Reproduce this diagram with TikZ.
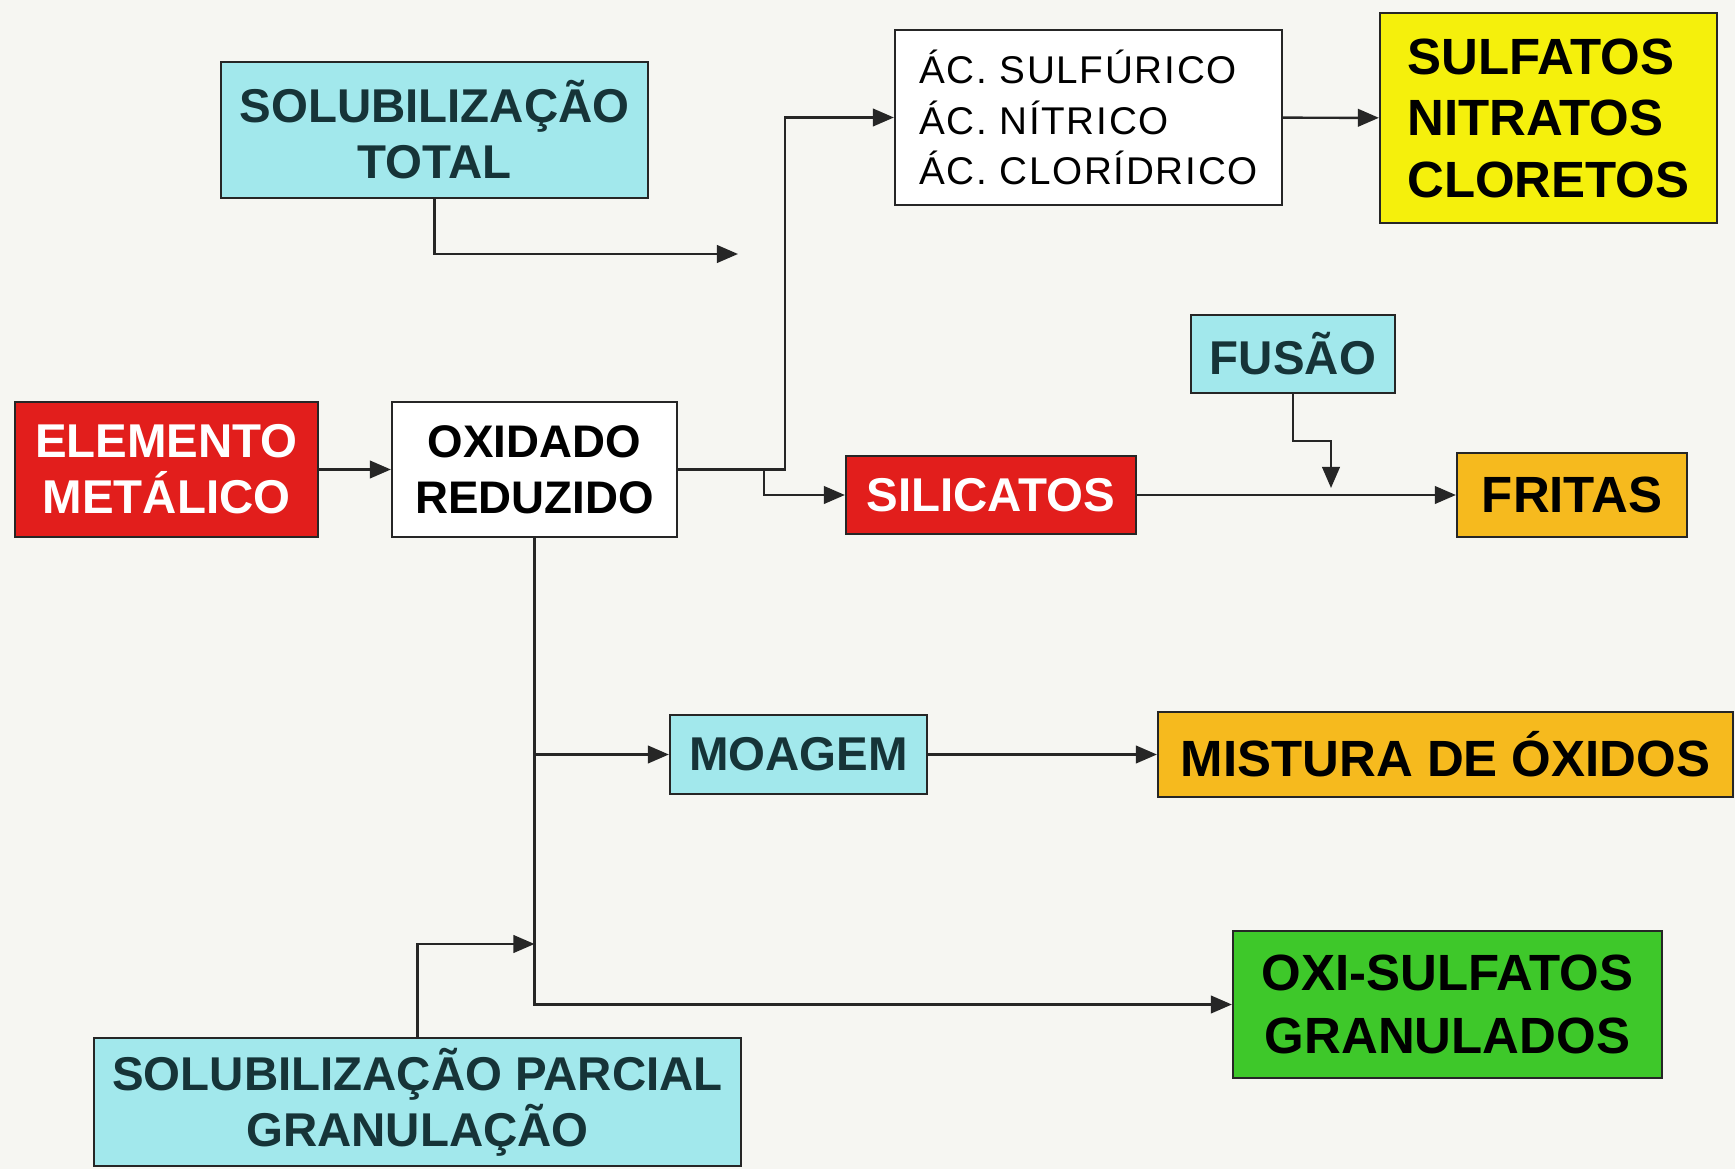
\documentclass[tikz,border=0pt]{standalone}
\usepackage{fontspec}
\setmainfont{Liberation Sans}
\newfontfamily\acidfont[LetterSpace=4.5]{Liberation Sans}
\usetikzlibrary{arrows.meta}

\definecolor{cPaper}{RGB}{246,246,242}
\definecolor{cCyan}{RGB}{162,232,236}
\definecolor{cRed}{RGB}{226,30,28}
\definecolor{cYellow}{RGB}{245,240,12}
\definecolor{cOrange}{RGB}{246,186,30}
\definecolor{cGreen}{RGB}{62,200,42}
\definecolor{cInk}{RGB}{22,52,56}
\definecolor{cLine}{RGB}{38,38,38}

\tikzset{
  cbox/.style={draw=cLine, line width=1.3pt, inner sep=0pt, align=center,
    font=\bfseries\fontsize{27}{32}\selectfont},
  procbox/.style={cbox, fill=cCyan, text=cInk},
  hotbox/.style={cbox, fill=cRed, text=white},
  outbox/.style={cbox, font=\bfseries\fontsize{29}{34}\selectfont},
  flow/.style={line width=1.4pt, draw=cLine, -{Triangle[length=12pt,width=10pt]}},
}

\begin{document}
\begin{tikzpicture}[x=0.02cm, y=-0.02cm]
\fill[cPaper] (0,0) rectangle (1735,1169);
\useasboundingbox (0,0) rectangle (1735,1169);

% boxes
\node[procbox, minimum width=8.54cm, minimum height=2.72cm] (bSolTot) at (434.5,130) {SOLUBILIZAÇÃO\\TOTAL};
\node[hotbox, minimum width=6.06cm, minimum height=2.70cm] (bElem) at (166.5,469.5) {ELEMENTO\\METÁLICO};
\node[cbox, fill=white, minimum width=5.70cm, minimum height=2.70cm,
      font=\bfseries\fontsize{26}{32}\selectfont] (bOxid) at (534.5,469.5) {OXIDADO\\REDUZIDO};
\node[cbox, fill=white, minimum width=7.74cm, minimum height=3.50cm, align=left,
      font=\acidfont\fontsize{22}{28.5}\selectfont] (bAcid) at (1088.5,117.5) {ÁC. SULFÚRICO\\ÁC. NÍTRICO\\ÁC. CLORÍDRICO};
\node[outbox, fill=cYellow, minimum width=6.74cm, minimum height=4.20cm, align=left,
      font=\bfseries\fontsize{29}{35}\selectfont] (bSulf) at (1548.5,118) {SULFATOS\\NITRATOS\\CLORETOS};
\node[procbox, minimum width=4.08cm, minimum height=1.56cm] (bFusao) at (1293,354) {FUSÃO};
\node[hotbox, minimum width=5.80cm, minimum height=1.56cm] (bSilic) at (991,495) {SILICATOS};
\node[outbox, fill=cOrange, minimum width=4.60cm, minimum height=1.68cm] (bFrit) at (1572,495) {FRITAS};
\node[procbox, minimum width=5.14cm, minimum height=1.58cm] (bMoag) at (798.5,754.5) {MOAGEM};
\node[outbox, fill=cOrange, minimum width=11.50cm, minimum height=1.70cm] (bMist) at (1445.5,754.5) {MISTURA DE ÓXIDOS};
\node[outbox, fill=cGreen, minimum width=8.58cm, minimum height=2.94cm,
      font=\bfseries\fontsize{29}{36}\selectfont] (bOxiS) at (1447.5,1004.5) {OXI-SULFATOS\\GRANULADOS};
\node[procbox, minimum width=12.94cm, minimum height=2.56cm] (bSolParc) at (417.5,1102) {SOLUBILIZAÇÃO PARCIAL\\GRANULAÇÃO};

% free ends and forks
\coordinate (cTotPt) at (738,254);
\coordinate (cRisePt) at (785,469.5);
\coordinate (cForkPt) at (764,469.5);
\coordinate (cFusPt) at (1331,488);
\coordinate (cTrunkPt) at (534.5,754.5);
\coordinate (cParcPt) at (534.5,944);

\foreach \a/\b in {bElem/bOxid, bAcid/bSulf, bSilic/bFrit, bMoag/bMist}
{
    \draw[flow] (\a) -- (\b);
};

\draw[flow] (bSolTot.south) |- (cTotPt);
\draw[flow] (bOxid.east) -- (cRisePt) |- (bAcid.west);
\draw[flow] (cForkPt) |- (bSilic.west);
\draw[flow] (bFusao.south) -- ++(0,47) -| (cFusPt);
\draw[flow] (bOxid.south) |- (bOxiS.west);
\draw[flow] (cTrunkPt) -- (bMoag.west);
\draw[flow] (bSolParc.north) |- (cParcPt);

\end{tikzpicture}
\end{document}
